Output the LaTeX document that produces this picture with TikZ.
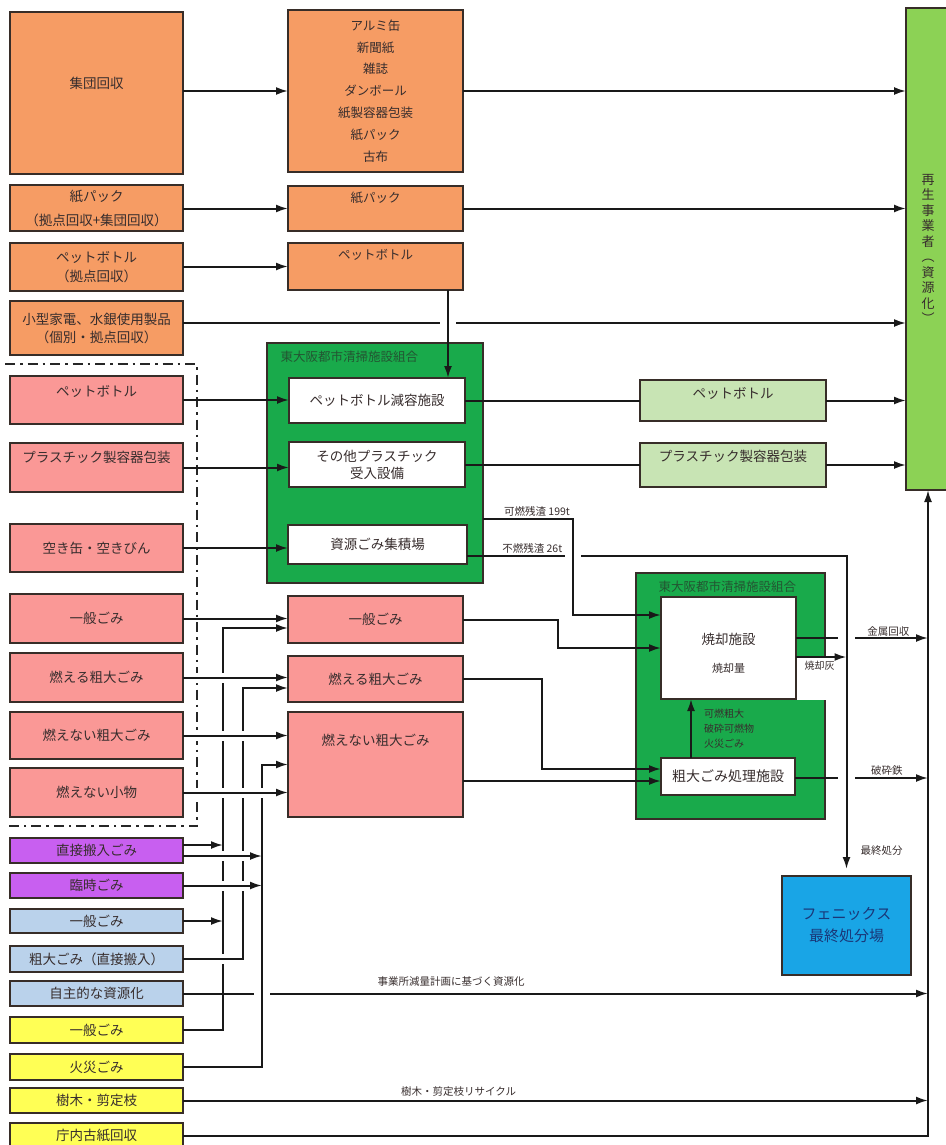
\documentclass[tikz,border=0pt]{standalone}
\usepackage{fontspec}
\setmainfont{Noto Sans CJK JP}
\usetikzlibrary{arrows.meta}

\definecolor{edge}{RGB}{55,45,40}
\definecolor{ink}{RGB}{55,45,45}
\definecolor{orng}{RGB}{246,156,100}
\definecolor{pnk}{RGB}{250,152,150}
\definecolor{purp}{RGB}{200,95,240}
\definecolor{lblu}{RGB}{186,210,235}
\definecolor{yel}{RGB}{255,255,85}
\definecolor{lgrn}{RGB}{200,228,180}
\definecolor{rgrn}{RGB}{140,210,85}
\definecolor{dgrn}{RGB}{25,170,75}
\definecolor{phxb}{RGB}{25,165,230}
\definecolor{phxt}{RGB}{25,55,120}
\definecolor{ttl}{RGB}{35,85,50}

\begin{document}
\begin{tikzpicture}[x=1pt,y=-1pt]
	\tikzset{
	box/.style={draw=edge, line width=1.4pt, inner sep=0pt, outer sep=0pt, text=ink, align=center, font=\fontsize{13.5}{19}\selectfont},
	lcol/.style={box, minimum width=173pt, minimum height=#1},
	rcol/.style={box, minimum width=175pt, minimum height=#1},
	intop/.style={anchor=center, yshift=-#1, text=ink, font=\fontsize{13.5}{19}\selectfont},
	title/.style={anchor=west, text=ttl, font=\fontsize{12.5}{15}\selectfont},
	note/.style={text=ink, font=\fontsize{10.5}{15}\selectfont, inner sep=1pt},
	arrow/.style={-{Latex[length=12pt,width=8pt]}, line width=2pt, draw=black!90},
	link/.style={line width=2pt, draw=black!90},
	over/.style={preaction={draw=white, line width=10pt, -, shorten >=7pt, shorten <=2pt}},
	cut/.style={draw=white, line width=6pt},
	group/.style={dash pattern=on 10pt off 5pt on 2.5pt off 5pt, line width=2.5pt, draw=black!85}}

	\useasboundingbox (0,0) rectangle (945,1145);

	%collection
	\node[lcol=162pt, fill=orng, label={[intop=71pt]north:集団回収}] (sh1) at (96.5,93) {};
	\node[lcol=46pt, fill=orng, font=\fontsize{13.5}{24}\selectfont] (sh2) at (96.5,208) {紙パック\\（拠点回収+集団回収）};
	\node[lcol=48pt, fill=orng] (sh3) at (96.5,267) {ペットボトル\\（拠点回収）};
	\node[lcol=54pt, fill=orng, font=\fontsize{13.5}{18}\selectfont] (sh4) at (96.5,328) {小型家電、水銀使用製品\\（個別・拠点回収）};

	\node[rcol=162pt, fill=orng, font=\fontsize{12.5}{21.8}\selectfont] (list) at (375.5,91) {アルミ缶\\新聞紙\\雑誌\\ダンボール\\紙製容器包装\\紙パック\\古布};
	\node[rcol=45pt, fill=orng, label={[intop=12pt, font=\fontsize{12.5}{15}\selectfont]north:紙パック}] (kami2) at (375.5,208.5) {};
	\node[rcol=47pt, fill=orng, label={[intop=12pt, font=\fontsize{12.5}{15}\selectfont]north:ペットボトル}] (pet2) at (375.5,266.5) {};

	\node[box, fill=rgrn, minimum width=44pt, minimum height=482pt, font=\fontsize{13}{15.5}\selectfont] (rs) at (928,249) {再\\生\\事\\業\\者\\︵\\資\\源\\化\\︶};

	%sorted collection
	\draw[group] (5,364) -| (197,826) -- (5,826);
	\node[lcol=48pt, fill=pnk, label={[intop=15pt]north:ペットボトル}] (p1) at (96.5,400) {};
	\node[lcol=49pt, fill=pnk, label={[intop=14pt]north:プラスチック製容器包装}] (p2) at (96.5,467.5) {};
	\node[lcol=48pt, fill=pnk] (p3) at (96.5,548) {空き缶・空きびん};
	\node[lcol=49pt, fill=pnk] (p4) at (96.5,618.5) {一般ごみ};
	\node[lcol=49pt, fill=pnk] (p5) at (96.5,677.5) {燃える粗大ごみ};
	\node[lcol=47pt, fill=pnk] (p6) at (96.5,735.5) {燃えない粗大ごみ};
	\node[lcol=49pt, fill=pnk] (p7) at (96.5,792.5) {燃えない小物};

	\node[rcol=47pt, fill=pnk] (q1) at (375.5,619.5) {一般ごみ};
	\node[rcol=46pt, fill=pnk] (q2) at (375.5,679) {燃える粗大ごみ};
	\node[rcol=105pt, fill=pnk, label={[intop=28pt]north:燃えない粗大ごみ}] (q3) at (375.5,764.5) {};

	%direct loads
	\node[lcol=25pt, fill=purp] (d1) at (96.5,850.5) {直接搬入ごみ};
	\node[lcol=25pt, fill=purp] (d2) at (96.5,885.5) {臨時ごみ};
	\node[lcol=24pt, fill=lblu] (b1) at (96.5,921) {一般ごみ};
	\node[lcol=26pt, fill=lblu] (b2) at (96.5,959) {粗大ごみ（直接搬入）};
	\node[lcol=25pt, fill=lblu] (b3) at (96.5,993.5) {自主的な資源化};
	\node[lcol=26pt, fill=yel] (y1) at (96.5,1030) {一般ごみ};
	\node[lcol=26pt, fill=yel] (y2) at (96.5,1067) {火災ごみ};
	\node[lcol=25pt, fill=yel] (y3) at (96.5,1100.5) {樹木・剪定枝};
	\node[lcol=25pt, fill=yel] (y4) at (96.5,1135.5) {庁内古紙回収};

	%plants
	\node[box, fill=dgrn, minimum width=216pt, minimum height=240pt, label={[title, xshift=10pt, yshift=-14pt]north west:東大阪都市清掃施設組合}] (grn1) at (375,463) {};
	\node[box, fill=white, minimum width=176pt, minimum height=45pt] (gen1) at (377,400.5) {ペットボトル減容施設};
	\node[box, fill=white, minimum width=176pt, minimum height=45pt, font=\fontsize{13.5}{17}\selectfont] (gen2) at (377,464.5) {その他プラスチック\\受入設備};
	\node[box, fill=white, minimum width=179pt, minimum height=39pt] (gen3) at (377.5,544.5) {資源ごみ集積場};

	\node[box, fill=lgrn, minimum width=186pt, minimum height=41pt, label={[intop=13pt]north:ペットボトル}] (lg1) at (733,400.5) {};
	\node[box, fill=lgrn, minimum width=186pt, minimum height=44pt, label={[intop=13pt]north:プラスチック製容器包装}] (lg2) at (733,465) {};

	\node[box, fill=dgrn, minimum width=189pt, minimum height=246pt, label={[title, xshift=19pt, yshift=-14pt]north west:東大阪都市清掃施設組合}] (grn2) at (730.5,696) {};
	\fill[white] (796,658) rectangle (826.5,700);
	\node[box, fill=white, minimum width=135pt, minimum height=102pt, label={[intop=42pt]north:焼却施設}, label={[intop=71pt, font=\fontsize{11}{13}\selectfont]north:焼却量}] (inc) at (728.5,648) {};
	\node[box, fill=white, minimum width=134pt, minimum height=37pt, font=\fontsize{14}{16}\selectfont] (sod) at (728,776.5) {粗大ごみ処理施設};

	\node[box, fill=phxb, text=phxt, minimum width=129pt, minimum height=99pt, font=\fontsize{15}{22}\selectfont] (phx) at (846.5,925.5) {フェニックス\\最終処分場};

	\coordinate (busA) at (223,628);
	\coordinate (busB) at (243,688);
	\coordinate (busC) at (262,764.5);

	%to recyclers
	\draw[arrow] (list.west -| sh1.east) -- (list.west);
	\draw[arrow] (list.east) -- (list.east -| rs.west);
	\draw[arrow] (kami2.west -| sh2.east) -- (kami2.west);
	\draw[arrow] (kami2.east) -- (kami2.east -| rs.west);
	\draw[arrow] (pet2.west -| sh3.east) -- (pet2.west);
	\draw[arrow] ([yshift=5pt]sh4.east) -- ([yshift=5pt]sh4.east -| rs.west);
	\draw[cut] (440,323) -- (456,323);
	\draw[arrow] ([xshift=72.5pt]pet2.south) -- ([xshift=72.5pt]pet2.south |- gen1.north);

	\draw[arrow] (p1.east) -- (p1.east -| gen1.west);
	\draw[arrow] (p2.east) -- (p2.east -| gen2.west);
	\draw[arrow] (p3.east) -- (p3.east -| gen3.west);
	\draw[link] (gen1.east) -- (gen1.east -| lg1.west);
	\draw[arrow] (lg1.east) -- (lg1.east -| rs.west);
	\draw[link] (gen2.east) -- (gen2.east -| lg2.west);
	\draw[arrow] (lg2.east) -- (lg2.east -| rs.west);

	%residues
	\draw[arrow] ([yshift=10pt]inc.east) -- node[note, above, pos=0.7] (kin) {金属回収} ([yshift=10pt]inc.east -| rs.south);
	\draw[arrow] ([yshift=-1.5pt]sod.east) -- node[note, above=1pt, pos=0.69] (tet) {破砕鉄} ([yshift=-1.5pt]sod.east -| rs.south);
	\draw[cut] (838,638) -- (855,638);
	\draw[cut] (838,778) -- (855,778);
	\draw[arrow, shorten >=7pt] ([yshift=-11.5pt]gen3.east) -| node[note, above=1pt, pos=0.086] (fun) {不燃残渣 26t} node[note, pos=0.96, anchor=west, xshift=12pt] (fin) {最終処分} (phx.north);
	\draw[cut] (565,556) -- (581,556);
	\draw[arrow] ([yshift=-56pt]grn1.east) -- node[note, above=1pt, pos=0.6] (kan) {可燃残渣 199t} (573,519) |- ([yshift=33pt]inc.west);
	\draw[arrow] ([yshift=-9pt]inc.east) -- node[note, below=2pt, pos=0.47, font=\fontsize{10}{12}\selectfont] (ash) {焼却灰} ([yshift=-9pt]inc.east -| phx.north);

	\draw[arrow] (q1.east) -| ([xshift=-103pt]inc.west) -- (inc.west);
	\draw[arrow] (q2.east) -| ([xshift=-119pt, yshift=7.5pt]sod.west) -- ([yshift=7.5pt]sod.west);
	\draw[arrow] ([yshift=-16.5pt]q3.east) -- ([yshift=-16.5pt]q3.east -| sod.west);
	\draw[arrow] ([xshift=-37pt]sod.north) -- node[note, right=11pt, align=left, font=\fontsize{10}{15}\selectfont] (mix) {可燃粗大\\破砕可燃物\\火災ごみ} ([xshift=-37pt]sod.north |- inc.south);

	%direct
	\draw[arrow] (b3.east) -- node[note, above=5pt, pos=0.36] (plan) {事業所減量計画に基づく資源化} (b3.east -| rs.south);
	\draw[cut] (254,993.5) -- (270,993.5);
	\draw[arrow] (y1.east) -| (busA) -- (busA -| q1.west);
	\draw[arrow, over] (b2.east) -| (busB) -- (busB -| q2.west);
	\draw[arrow] (y2.east) -| (busC) -- (busC -| q3.west);

	\draw[arrow] ([yshift=5.5pt]d1.east) -- ([yshift=5.5pt]d1.east -| busA);
	\draw[arrow, over] ([yshift=-5.5pt]d1.east) -- ([yshift=-5.5pt]d1.east -| busC);
	\draw[arrow, over] (d2.east) -- (d2.east -| busC);
	\draw[arrow] (b1.east) -- (b1.east -| busA);
	\draw[arrow] (y3.east) -- node[note, above=2pt, pos=0.37] (tree) {樹木・剪定枝リサイクル} (y3.east -| rs.south);
	\draw[arrow] (y4.east) -| (rs.south);

	\draw[arrow] (p4.east) -- (p4.east -| q1.west);
	\draw[arrow, over] (p5.east) -- (p5.east -| q2.west);
	\draw[arrow, over] (p6.east) -- (p6.east -| q3.west);
	\draw[arrow, over] (p7.east) -- (p7.east -| q3.west);

\end{tikzpicture}
\end{document}
